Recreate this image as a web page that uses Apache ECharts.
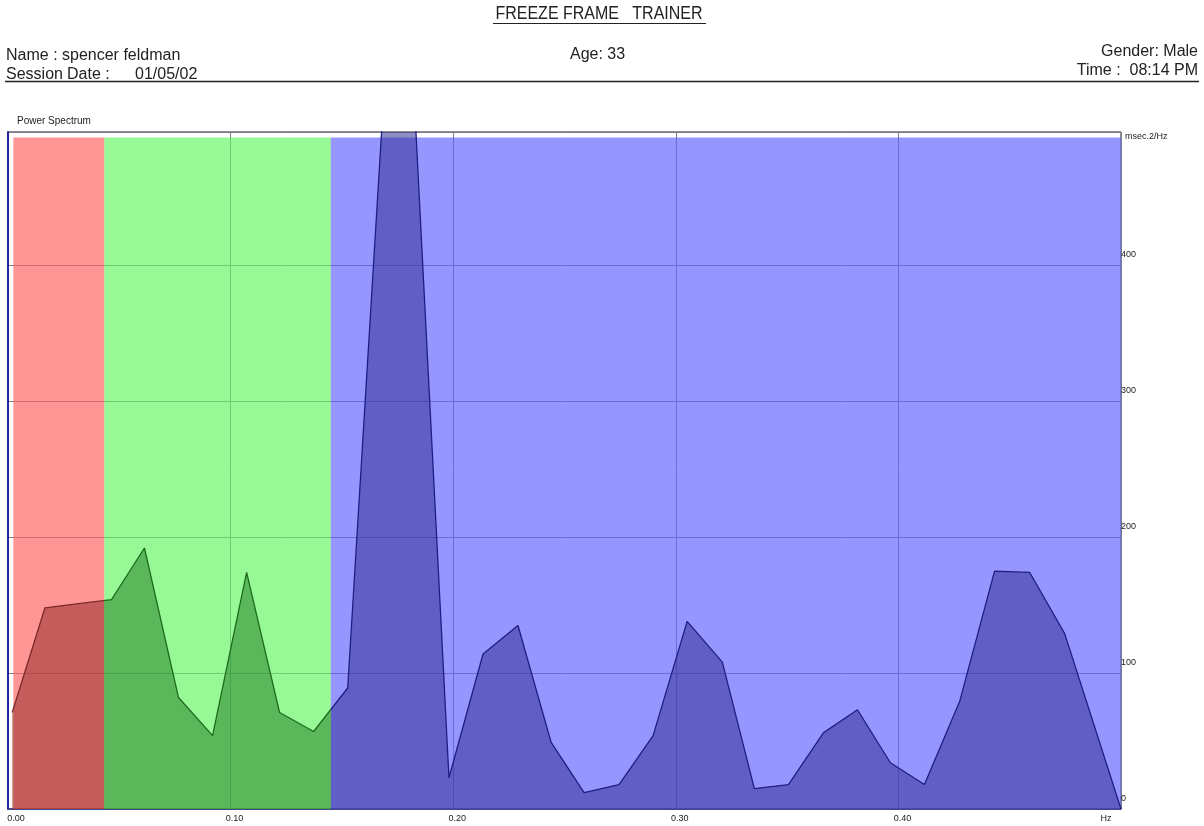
<!DOCTYPE html>
<html><head><meta charset="utf-8">
<script src="https://cdn.jsdelivr.net/npm/echarts@6/dist/echarts.min.js"></script>
<style>html,body{margin:0;padding:0;background:#fff}#c{width:1204px;height:826px}</style>
</head><body><div id="c"></div>
<script>
// Frequencies (Hz) of the spectrum points
const freqs = [0.0019, 0.0166, 0.0316, 0.0465, 0.0613, 0.0766, 0.0919, 0.1072, 0.1220, 0.1373,
               0.1526, 0.1679, 0.1832, 0.1981, 0.2134, 0.2291, 0.2440, 0.2588, 0.2745, 0.2898,
               0.3051, 0.3209, 0.3353, 0.3506, 0.3663, 0.3816, 0.3964, 0.4117, 0.4275, 0.4432,
               0.4590, 0.4747, 0.5000];
// Power (msec^2/Hz)
const power = [71, 148, 151, 154, 192, 82, 54, 174, 71, 57,
               89, 500, 500, 23, 114, 135, 49, 12, 18, 54,
               138, 108, 15, 18, 56, 73, 34, 18, 79, 175,
               174, 129, 0];
// Band edges (Hz): VLF, LF, HF
const bandEdges = [0.0024, 0.0433, 0.1450, 0.5];
const bandTop = 494;
const xTickLabels = ['0.00', '0.10', '0.20', '0.30', '0.40', 'Hz'];
const yUnit = 'msec.2/Hz';

const bandFill = ['rgba(255,100,100,0.68)', 'rgba(100,246,100,0.68)', 'rgba(100,100,255,0.68)'];
const areaFill = ['rgba(150,45,45,0.55)', 'rgba(40,130,40,0.55)', 'rgba(50,50,150,0.55)'];
const lineCol = ['#7a2a2a', '#1d6a1d', '#1e1e82'];

const pts = freqs.map((f, i) => [f, power[i]]);
const font = "'Liberation Sans', Arial, sans-serif";

function pieces(cols) {
  return [
    { lt: bandEdges[1], color: cols[0] },
    { gte: bandEdges[1], lt: bandEdges[2], color: cols[1] },
    { gte: bandEdges[2], color: cols[2] }
  ];
}

const chart = echarts.init(document.getElementById('c'), null, { renderer: 'canvas' });
const txt = (t, x, y, size, align, sy) => ({
  type: 'text', x: x, y: y, scaleY: sy || 1, silent: true,
  style: { text: t, font: size + 'px ' + font, fill: '#222', textAlign: align || 'left', textVerticalAlign: 'middle' }
});

chart.setOption({
  animation: false,
  backgroundColor: '#fff',
  grid: { left: 8, right: 83, top: 132, bottom: 17, show: true, borderColor: '#222', borderWidth: 1, backgroundColor: 'transparent' },
  xAxis: {
    type: 'value', min: 0, max: 0.5, interval: 0.1,
    axisLine: { lineStyle: { color: '#34348a', width: 1.5 } },
    axisTick: { show: false },
    splitLine: { show: true, lineStyle: { color: '#7a7a8a', width: 1 } },
    axisLabel: {
      margin: 5, showMinLabel: true, showMaxLabel: true, fontSize: 9, color: '#222', fontFamily: font,
      formatter: v => {
        const i = Math.round(v * 10);
        const t = xTickLabels[i];
        if (i === 0) return '{z|' + t + '}';
        if (i === 5) return '{h|' + t + '}';
        return '{n|' + t + '}';
      },
      rich: {
        z: { fontSize: 9, color: '#222', fontFamily: font, padding: [0, 0, 0, 16] },
        n: { fontSize: 9, color: '#222', fontFamily: font, padding: [0, 0, 0, 8] },
        h: { fontSize: 9, color: '#222', fontFamily: font, padding: [0, 30, 0, 0] }
      }
    }
  },
  yAxis: {
    type: 'value', position: 'right', min: 0, max: 498, interval: 100,
    axisLine: { show: true, lineStyle: { color: '#2424a0', width: 2 } },
    axisTick: { show: false },
    splitLine: { show: true, lineStyle: { color: '#7a7a8a', width: 1 } },
    axisLabel: { showMaxLabel: false, fontSize: 9, color: '#222', fontFamily: font, margin: 0, align: 'left', verticalAlign: 'bottom', padding: [0, 0, 6, 0] }
  },
  visualMap: [
    { type: 'piecewise', show: false, dimension: 0, seriesIndex: 0, pieces: pieces(areaFill) },
    { type: 'piecewise', show: false, dimension: 0, seriesIndex: 1, pieces: pieces(lineCol) }
  ],
  series: [
    {
      type: 'line', data: pts, symbol: 'none', z: 2,
      lineStyle: { width: 0, opacity: 0 },
      areaStyle: { opacity: 1 },
      markArea: {
        silent: true,
        data: [0, 1, 2].map(k => [
          { xAxis: bandEdges[k], yAxis: 0, itemStyle: { color: bandFill[k] } },
          { xAxis: bandEdges[k + 1], yAxis: bandTop }
        ])
      }
    },
    { type: 'line', data: pts, symbol: 'none', z: 3, lineStyle: { width: 1.3 } }
  ],
  graphic: [
    txt('FREEZE FRAME   TRAINER', 599, 14.5, 16, 'center', 1.1),
    { type: 'line', silent: true, shape: { x1: 493, y1: 23.5, x2: 706, y2: 23.5 }, style: { stroke: '#222', lineWidth: 1 } },
    txt('Name : spencer feldman', 6, 55.5, 16, 'left', 1.08),
    txt('Session', 6, 74.5, 16, 'left', 1.08),
    txt('Date :', 67, 74.5, 16, 'left', 1.08),
    txt('01/05/02', 135, 74.5, 16, 'left', 1.08),
    txt('Age: 33', 570, 54.5, 16, 'left', 1.08),
    txt('Gender: Male', 1198, 51, 16, 'right', 1.08),
    txt('Time :  08:14 PM', 1198, 70, 16, 'right', 1.08),
    { type: 'line', silent: true, shape: { x1: 5, y1: 81.5, x2: 1199, y2: 81.5 }, style: { stroke: '#222', lineWidth: 1.3 } },
    txt('Power Spectrum', 17, 121, 10, 'left', 1.1),
    txt(yUnit, 1125, 137, 9, 'left', 1)
  ]
});
</script></body></html>
